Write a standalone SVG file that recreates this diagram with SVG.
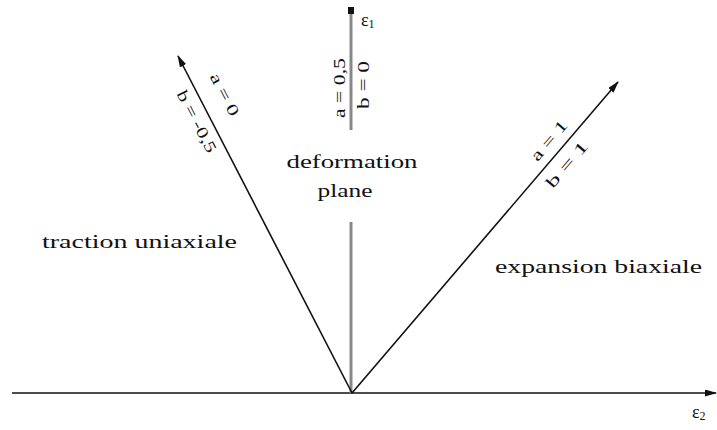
<svg xmlns="http://www.w3.org/2000/svg" width="717" height="430" viewBox="0 0 717 430">
<style>
.t{font-family:"Liberation Serif","DejaVu Serif",serif;fill:#111;}
.lab{font-size:18px;}
.sm{font-size:16px;}
.ax{stroke:#111;stroke-width:1.6;fill:none;}
.gr{stroke:#888;stroke-width:3;fill:none;}
</style>
<defs>
<marker id="ah" markerWidth="12" markerHeight="7" refX="11" refY="3.5" orient="auto" markerUnits="userSpaceOnUse">
<path d="M0,0 L12,3.5 L0,7 Z" fill="#111"/>
</marker>
</defs>
<rect width="717" height="430" fill="#fff"/>
<g id="connectors">
<line class="ax" x1="12" y1="393" x2="716" y2="393" marker-end="url(#ah)"/>
<line class="gr" x1="351" y1="8" x2="351" y2="130"/>
<line class="gr" x1="351" y1="222" x2="351" y2="393"/>
<path d="M348,7 L354,7 L354,14 L348,14 Z" fill="#111"/>
<line class="ax" x1="352" y1="393" x2="178" y2="56" marker-end="url(#ah)"/>
<line class="ax" x1="352" y1="393" x2="618" y2="82" marker-end="url(#ah)"/>
</g>
<g id="axis-e1">
<text class="t lab" x="361" y="26">ε<tspan font-size="12" dy="2">1</tspan></text>
</g>
<g id="axis-e2">
<text class="t lab" x="692" y="418">ε<tspan font-size="12" dy="2">2</tspan></text>
</g>
<g id="label-uniaxial">
<text class="t sm" text-anchor="middle" textLength="46" lengthAdjust="spacingAndGlyphs" transform="translate(220,97) rotate(62.6)">a = 0</text>
<text class="t sm" text-anchor="middle" textLength="68" lengthAdjust="spacingAndGlyphs" transform="translate(192,124) rotate(62.6)">b = -0,5</text>
</g>
<g id="label-plane">
<text class="t sm" text-anchor="middle" textLength="60" lengthAdjust="spacingAndGlyphs" transform="translate(345,88) rotate(-90)">a = 0,5</text>
<text class="t sm" text-anchor="middle" textLength="48" lengthAdjust="spacingAndGlyphs" transform="translate(369,85) rotate(-90)">b = 0</text>
</g>
<g id="label-biaxial">
<text class="t sm" text-anchor="middle" textLength="48" lengthAdjust="spacingAndGlyphs" transform="translate(553,144) rotate(-49.5)">a = 1</text>
<text class="t sm" text-anchor="middle" textLength="56" lengthAdjust="spacingAndGlyphs" transform="translate(571,168) rotate(-49.5)">b = 1</text>
</g>
<g id="region-deformation">
<text class="t lab" x="352" y="168" text-anchor="middle" textLength="131" lengthAdjust="spacingAndGlyphs">deformation</text>
<text class="t lab" x="345" y="197" text-anchor="middle" textLength="55" lengthAdjust="spacingAndGlyphs">plane</text>
</g>
<g id="region-traction">
<text class="t lab" x="42" y="248" textLength="195" lengthAdjust="spacingAndGlyphs">traction uniaxiale</text>
</g>
<g id="region-expansion">
<text class="t lab" x="495" y="273" textLength="207" lengthAdjust="spacingAndGlyphs">expansion biaxiale</text>
</g>
</svg>
